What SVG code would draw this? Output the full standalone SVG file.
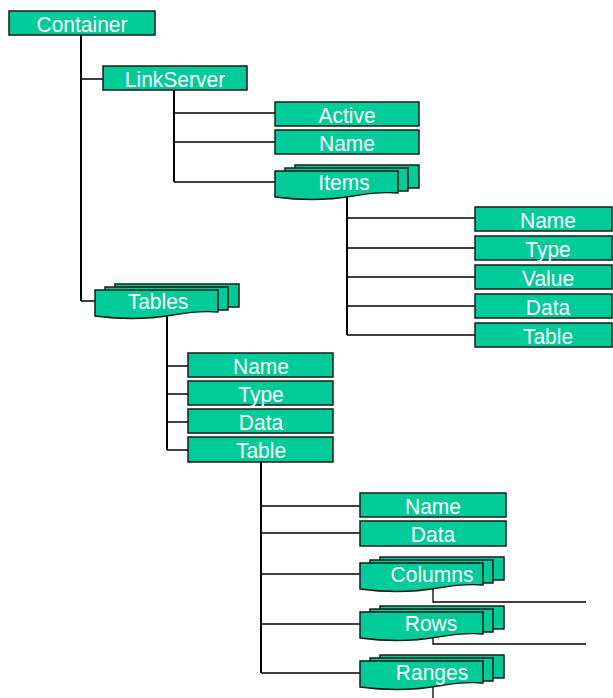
<svg xmlns="http://www.w3.org/2000/svg" xmlns:xlink="http://www.w3.org/1999/xlink" width="613" height="698" viewBox="0 0 613 698">
<style>
.box{fill:#00CC99;stroke:#1a1a1a;stroke-width:1.5}
.t{font-family:"Liberation Sans",Arial,sans-serif;font-size:21px;fill:#ffffff;text-anchor:middle}
.ln{fill:none;stroke:#000;stroke-width:1.3}
.vl{fill:none;stroke:#000;stroke-width:2}
</style>
<defs>
<g id="stack">
<rect class="box" x="20" y="-6" width="124" height="23"/>
<rect class="box" x="10" y="-3" width="123" height="23"/>
<path class="box" d="M0,0 H123 V22 C110,21 95,22 78,25 C55,29 30,30 0,26 Z"/>
</g>
</defs>
<rect width="613" height="698" fill="#ffffff"/>
<g id="connectors">
<path class="vl" d="M81,35 V301"/>
<path class="ln" d="M81,79 H103 M81,301 H95"/>
<path class="vl" d="M174,90 V182"/>
<path class="ln" d="M174,113 H275 M174,142 H275 M174,182 H275"/>
<path class="vl" d="M347,195 V335"/>
<path class="ln" d="M347,218 H475 M347,248 H475 M347,277 H475 M347,306 H475 M347,335 H475"/>
<path class="vl" d="M167,316 V450"/>
<path class="ln" d="M167,366 H188 M167,394 H188 M167,422 H188 M167,450 H188"/>
<path class="vl" d="M261,462 V673"/>
<path class="ln" d="M261,506 H360 M261,533 H360 M261,574 H360 M261,624 H360 M261,673 H360"/>
<path class="ln" d="M433,588 V602 H586 M433,637 V644 H586 M433,686 V698"/>
</g>
<g id="container"><rect class="box" x="9" y="11" width="146" height="24"/><text class="t" transform="translate(82 31.5) scale(1 1.07)">Container</text></g>
<g id="linkserver"><rect class="box" x="103" y="66" width="144" height="24"/><text class="t" transform="translate(175 86.5) scale(1 1.07)">LinkServer</text></g>
<g id="ls-active"><rect class="box" x="275" y="102" width="144" height="24"/><text class="t" transform="translate(347 122.5) scale(1 1.07)">Active</text></g>
<g id="ls-name"><rect class="box" x="275" y="130" width="144" height="24"/><text class="t" transform="translate(347 150.5) scale(1 1.07)">Name</text></g>
<g id="items"><use xlink:href="#stack" x="275" y="171"/><text class="t" transform="translate(344 190) scale(1 1.07)">Items</text></g>
<g id="items-name"><rect class="box" x="475" y="207" width="137" height="24"/><text class="t" transform="translate(548 227.5) scale(1 1.07)">Name</text></g>
<g id="items-type"><rect class="box" x="475" y="236" width="137" height="24"/><text class="t" transform="translate(548 256.5) scale(1 1.07)">Type</text></g>
<g id="items-value"><rect class="box" x="475" y="265" width="137" height="24"/><text class="t" transform="translate(548 285.5) scale(1 1.07)">Value</text></g>
<g id="items-data"><rect class="box" x="475" y="294" width="137" height="24"/><text class="t" transform="translate(548 314.5) scale(1 1.07)">Data</text></g>
<g id="items-table"><rect class="box" x="475" y="323" width="137" height="24"/><text class="t" transform="translate(548 343.5) scale(1 1.07)">Table</text></g>
<g id="tables"><use xlink:href="#stack" x="95" y="290"/><text class="t" transform="translate(158 308.5) scale(1 1.07)">Tables</text></g>
<g id="tables-name"><rect class="box" x="188" y="353" width="145" height="24"/><text class="t" transform="translate(261 373.5) scale(1 1.07)">Name</text></g>
<g id="tables-type"><rect class="box" x="188" y="381" width="145" height="24"/><text class="t" transform="translate(261 401.5) scale(1 1.07)">Type</text></g>
<g id="tables-data"><rect class="box" x="188" y="409" width="145" height="24"/><text class="t" transform="translate(261 429.5) scale(1 1.07)">Data</text></g>
<g id="tables-table"><rect class="box" x="188" y="437" width="145" height="25"/><text class="t" transform="translate(261 457.5) scale(1 1.07)">Table</text></g>
<g id="table-name"><rect class="box" x="360" y="493" width="146" height="24"/><text class="t" transform="translate(433 513.5) scale(1 1.07)">Name</text></g>
<g id="table-data"><rect class="box" x="360" y="521" width="146" height="25"/><text class="t" transform="translate(433 541.5) scale(1 1.07)">Data</text></g>
<g id="columns"><use xlink:href="#stack" x="360" y="563"/><text class="t" transform="translate(432 582) scale(1 1.07)">Columns</text></g>
<g id="rows"><use xlink:href="#stack" x="360" y="612"/><text class="t" transform="translate(431 631) scale(1 1.07)">Rows</text></g>
<g id="ranges"><use xlink:href="#stack" x="360" y="661"/><text class="t" transform="translate(432 680) scale(1 1.07)">Ranges</text></g>
</svg>
